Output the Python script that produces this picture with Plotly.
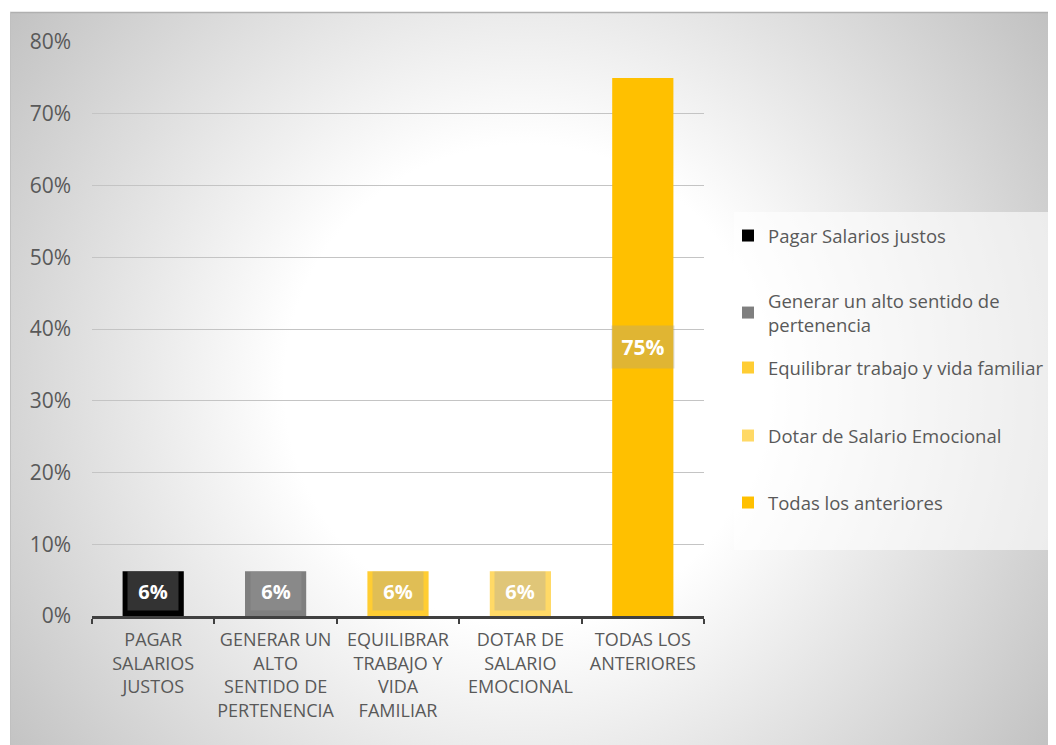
import base64
import plotly.graph_objects as go

# ---- data ----
categories = ["PAGAR<br>SALARIOS<br>JUSTOS",
              "GENERAR UN<br>ALTO<br>SENTIDO DE<br>PERTENENCIA",
              "EQUILIBRAR<br>TRABAJO Y<br>VIDA<br>FAMILIAR",
              "DOTAR DE<br>SALARIO<br>EMOCIONAL",
              "TODAS LOS<br>ANTERIORES"]
series_names = ["Pagar Salarios justos",
                "Generar un alto sentido de<br>pertenencia",
                "Equilibrar trabajo y vida familiar",
                "Dotar de Salario Emocional",
                "Todas los anteriores"]
values = [0.0625, 0.0625, 0.0625, 0.0625, 0.75]
labels = ["6%", "6%", "6%", "6%", "75%"]
colors = ["#000000", "#7f7f7f", "#ffcd33", "#ffd966", "#ffc000"]
y_ticks = [0, 0.1, 0.2, 0.3, 0.4, 0.5, 0.6, 0.7, 0.8]

W, H = 1056, 745
OFF = 8  # page body margin offset
L, R, T, B = 92 - OFF, 704 - OFF, 42 - OFF, 616 - OFF
pw, ph = R - L, B - T

FONT = "Open Sans"
TXT = "#595959"

# legend item centres (screen px) and legend box
legend_centres = [236, 313, 368, 436, 503]
LBOX = (734, 212, 1050, 550)

fig = go.Figure()
for i, (c, v, n, col) in enumerate(zip(categories, values, series_names, colors)):
    lg = "legend" if i == 0 else f"legend{i+1}"
    fig.add_trace(go.Bar(x=[c], y=[v], name=n, marker=dict(color=col, line=dict(width=0)),
                         width=0.5, legend=lg, hoverinfo="skip"))

# data labels with semi-transparent box
for c, v, lab in zip(categories, values, labels):
    big = v >= 0.5
    fig.add_annotation(x=c, y=v / 2, yshift=3 if not big else 0,
                       text="<b>" + lab + "</b>", showarrow=False,
                       font=dict(family=FONT, size=21 if big else 20, color="white"),
                       width=54 if big else 42, height=34 if big else 30,
                       bgcolor="rgba(160,160,160,0.32)", borderpad=4)

# background: radial gradient as svg
svg = f'''<svg xmlns="http://www.w3.org/2000/svg" width="{W}" height="{H}" viewBox="0 0 {W} {H}" preserveAspectRatio="none">
<defs><radialGradient id="g" gradientUnits="userSpaceOnUse" cx="{525-OFF}" cy="{385-OFF}" r="650">
<stop offset="0" stop-color="#ffffff"/><stop offset="0.37" stop-color="#ffffff"/>
<stop offset="1" stop-color="#c0c0c0"/></radialGradient></defs>
<rect x="0" y="0" width="{W}" height="{H}" fill="#ffffff"/>
<rect x="{10-OFF}" y="{12-OFF}" width="{W}" height="{H}" fill="url(#g)"/>
<line x1="{10-OFF}" y1="{12.5-OFF}" x2="{W}" y2="{12.5-OFF}" stroke="#b0b0b0" stroke-width="1.5"/>
<line x1="{10.5-OFF}" y1="{12-OFF}" x2="{10.5-OFF}" y2="{H}" stroke="#c0c0c0" stroke-width="1"/>
</svg>'''
src = "data:image/svg+xml;base64," + base64.b64encode(svg.encode()).decode()
fig.add_layout_image(dict(source=src, xref="paper", yref="paper",
                          x=-L / pw, y=B / ph, sizex=W / pw, sizey=H / ph,
                          xanchor="left", yanchor="top", sizing="stretch", layer="below"))

# legend box
x0, y0, x1, y1 = [v - OFF for v in LBOX]
fig.add_shape(type="rect", xref="paper", yref="paper",
              x0=(x0 - L) / pw, x1=(x1 - L) / pw, y0=(B - y1) / ph, y1=(B - y0) / ph,
              fillcolor="rgba(255,255,255,0.6)", line=dict(width=0), layer="below")

legends = {}
for i, yc in enumerate(legend_centres):
    key = "legend" if i == 0 else f"legend{i+1}"
    legends[key] = dict(xref="container", yref="container", x=(728 - OFF) / W,
                        y=1 - (yc - OFF) / H, xanchor="left", yanchor="middle",
                        bgcolor="rgba(0,0,0,0)", borderwidth=0, itemclick=False,
                        font=dict(family=FONT, size=18.5, color=TXT))

fig.update_layout(
    width=W, height=H,
    margin=dict(l=L, r=W - R, t=T, b=H - B, autoexpand=False),
    paper_bgcolor="white", plot_bgcolor="rgba(0,0,0,0)",
    barmode="relative", bargap=0.5,
    font=dict(family=FONT, color=TXT),
    showlegend=True,
    xaxis=dict(type="category", tickson="boundaries", ticks="outside", ticklen=5,
               tickcolor="#404040", tickwidth=2, showline=True, linecolor="#404040",
               linewidth=2.5, showgrid=False, tickangle=0, ticklabelstandoff=6,
               tickfont=dict(family=FONT, size=18, color=TXT)),
    yaxis=dict(range=[0, 0.8], tickvals=y_ticks, tickformat=".0%", showgrid=True,
               gridcolor="#c4c4c4", gridwidth=1, zeroline=False, showline=False,
               ticks="", ticklabelstandoff=20, tickfont=dict(family=FONT, size=21, color=TXT)),
    **legends,
)

fig.write_html("out.html")
